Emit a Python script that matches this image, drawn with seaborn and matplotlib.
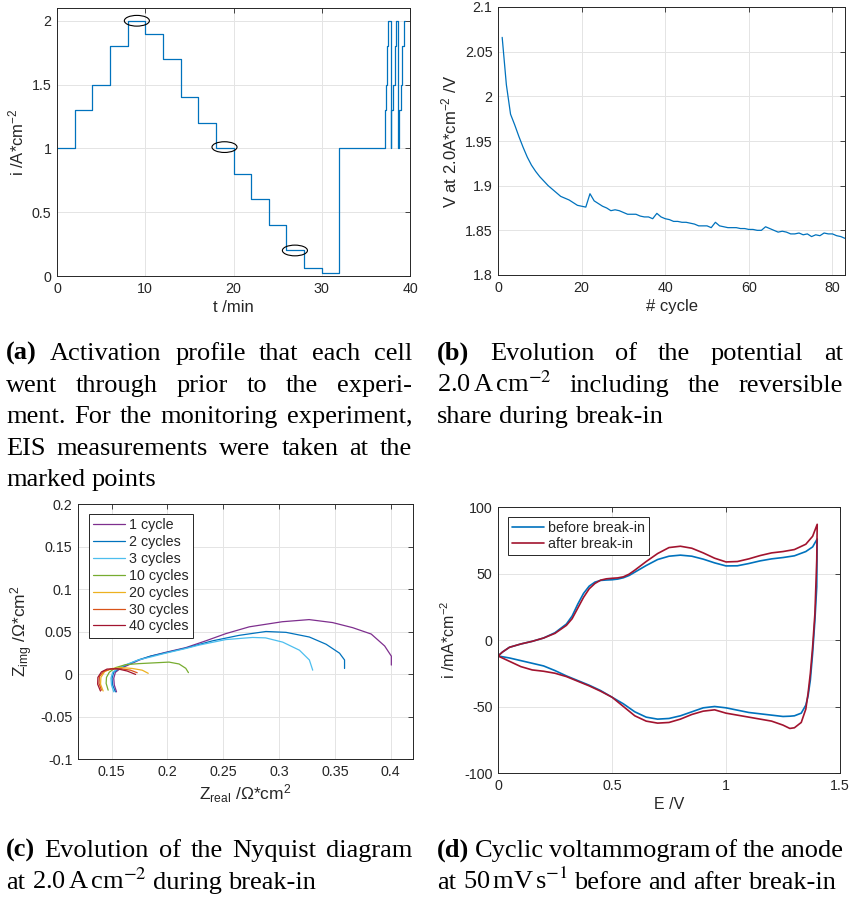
import numpy as np
import pandas as pd
import matplotlib
matplotlib.use("Agg")
import matplotlib.pyplot as plt
from matplotlib.patches import Ellipse
from matplotlib.ticker import FuncFormatter
import seaborn as sns

# ---------------- data ----------------
# (a) activation profile: step start times [min] and current density [A/cm2]
step_t = [0, 2, 4, 6, 8, 10, 12, 14, 16, 18, 20, 22, 24, 26, 28, 30, 32,
          37.16, 37.30, 37.42, 37.55, 37.80,
          37.90, 38.05, 38.25, 38.45, 38.64,
          38.75, 38.95, 39.10, 39.30, 39.43]
step_i = [1.0, 1.3, 1.5, 1.8, 2.0, 1.9, 1.7, 1.4, 1.2, 1.0, 0.8, 0.6, 0.4, 0.2, 0.065, 0.025, 1.0,
          1.3, 1.5, 1.8, 2.0, 1.0,
          1.3, 1.5, 1.8, 2.0, 1.0,
          1.3, 1.5, 1.8, 2.0, 2.0]
eis_t = [9.05, 18.98, 26.96]
eis_i = [2.0, 1.01, 0.2]

# (b) potential at 2.0 A/cm2 per cycle
cycle_no = list(range(1, 84))
v_cycle = [2.066, 2.013, 1.980, 1.968, 1.955, 1.943, 1.932, 1.923, 1.916, 1.910,
           1.905, 1.900, 1.896, 1.892, 1.888, 1.886, 1.884, 1.881, 1.878, 1.877,
           1.876, 1.891, 1.883, 1.880, 1.877, 1.875, 1.872, 1.873, 1.872, 1.870,
           1.868, 1.868, 1.868, 1.866, 1.865, 1.865, 1.863, 1.869, 1.865, 1.863,
           1.862, 1.860, 1.860, 1.859, 1.859, 1.858, 1.857, 1.855, 1.855, 1.855,
           1.853, 1.859, 1.855, 1.854, 1.853, 1.853, 1.853, 1.852, 1.852, 1.851,
           1.851, 1.850, 1.850, 1.854, 1.852, 1.850, 1.848, 1.849, 1.848, 1.846,
           1.846, 1.847, 1.845, 1.846, 1.843, 1.845, 1.844, 1.847, 1.846, 1.846,
           1.844, 1.843, 1.841]

# (c) Nyquist spectra
nyq_labels = ["1 cycle", "2 cycles", "3 cycles", "10 cycles", "20 cycles", "30 cycles", "40 cycles"]
nyq_colors = ["#7E2F8E", "#0072BD", "#4DBEEE", "#77AC30", "#EDB120", "#D95319", "#A2142F"]
zr_1 = [0.1545, 0.1525, 0.1520, 0.1535, 0.1580, 0.1650, 0.1750, 0.1850, 0.1985, 0.2165, 0.2344,
        0.2524, 0.2734, 0.3030, 0.3270, 0.3480, 0.3660, 0.3826, 0.3946, 0.4006, 0.4006]
zi_1 = [-0.021, -0.013, -0.005, 0.002, 0.0065, 0.0105, 0.0165, 0.0210, 0.0255, 0.0310, 0.0390,
        0.0475, 0.0555, 0.0615, 0.0640, 0.0605, 0.0545, 0.0470, 0.0330, 0.0210, 0.0105]
zr_2 = [0.1535, 0.1510, 0.1505, 0.1520, 0.1565, 0.1630, 0.1750, 0.1850, 0.1985, 0.2165, 0.2404,
        0.2644, 0.2883, 0.3063, 0.3272, 0.3422, 0.3542, 0.3587, 0.3587]
zi_2 = [-0.021, -0.013, -0.005, 0.002, 0.0065, 0.0105, 0.0170, 0.0210, 0.0250, 0.0305, 0.0390,
        0.0455, 0.0500, 0.0490, 0.0435, 0.0350, 0.0245, 0.0165, 0.0065]
zr_3 = [0.1520, 0.1500, 0.1495, 0.1510, 0.1555, 0.1620, 0.1740, 0.1850, 0.1985, 0.2165, 0.2284,
        0.2524, 0.2763, 0.2880, 0.3033, 0.3183, 0.3272, 0.3302]
zi_3 = [-0.021, -0.013, -0.005, 0.002, 0.0065, 0.0105, 0.0165, 0.0200, 0.0245, 0.0300, 0.0340,
        0.0405, 0.0430, 0.0425, 0.0375, 0.0280, 0.0165, 0.0045]
zr_10 = [0.1470, 0.1452, 0.1455, 0.1480, 0.1536, 0.1626, 0.1745, 0.1895, 0.2015, 0.2105, 0.2165, 0.2189]
zi_10 = [-0.019, -0.011, -0.004, 0.002, 0.0075, 0.0110, 0.0122, 0.0132, 0.0140, 0.0118, 0.0067, 0.0016]
zr_20 = [0.1425, 0.1402, 0.1405, 0.1440, 0.1506, 0.1596, 0.1686, 0.1775, 0.1829]
zi_20 = [-0.020, -0.012, -0.004, 0.003, 0.0065, 0.0075, 0.0065, 0.0045, 0.0008]
zr_30 = [0.1410, 0.1388, 0.1392, 0.1430, 0.1491, 0.1580, 0.1670, 0.1730]
zi_30 = [-0.019, -0.011, -0.003, 0.003, 0.0058, 0.0062, 0.0045, 0.0015]
zr_40 = [0.1401, 0.1376, 0.1378, 0.1410, 0.1460, 0.1550, 0.1640, 0.1716]
zi_40 = [-0.020, -0.012, -0.004, 0.0025, 0.0058, 0.0062, 0.0035, -0.0005]

# (d) cyclic voltammograms
E_anodic = [0.0, 0.02, 0.05, 0.1, 0.15, 0.2, 0.25, 0.3, 0.325, 0.35, 0.375, 0.4, 0.425, 0.45,
            0.475, 0.5, 0.525, 0.55, 0.575, 0.6, 0.65, 0.7, 0.75, 0.8, 0.85, 0.9, 0.95, 1.0,
            1.05, 1.1, 1.15, 1.2, 1.25, 1.3, 1.35, 1.38, 1.4]
i_before_anodic = [-12, -9, -5.5, -3, -1, 1.5, 5.5, 12, 18, 27, 35, 40.5, 43.5, 44.8,
                   45.1, 45.3, 45.8, 46.8, 48.5, 51, 56, 60.5, 63, 63.8, 63, 60.8, 58, 55.7,
                   55.8, 57.5, 59.5, 61, 62, 63.3, 66.5, 70, 76]
i_after_anodic = [-12, -9, -5.5, -3, -1, 1.5, 5, 11, 16, 24, 32, 38.5, 42.5, 45,
                  46, 46.4, 46.7, 47.5, 49.5, 52.5, 59, 65, 69.5, 70.5, 69, 65.5, 61.5, 58.7,
                  59, 61, 63.5, 65.5, 66.5, 68, 72, 78, 87]
E_cathodic = [1.398, 1.39, 1.38, 1.37, 1.36, 1.35, 1.33, 1.3, 1.28, 1.25, 1.2, 1.1, 1.0, 0.95,
              0.9, 0.85, 0.8, 0.75, 0.7, 0.65, 0.6, 0.55, 0.5, 0.45, 0.4, 0.35, 0.3, 0.25,
              0.2, 0.15, 0.1, 0.05, 0.0]
i_before_cathodic = [40, 15, -10, -30, -42, -49, -55, -57, -57.3, -57.5, -56.5, -54.5, -51, -50,
                     -51, -54, -57, -59, -59.5, -58, -54, -48, -43, -38, -34, -30.5, -27, -23,
                     -19.5, -17.5, -15.5, -13.5, -12]
i_after_cathodic = [60, 20, -5, -25, -40, -52, -62, -66, -66.5, -64, -61, -58, -55, -52.5,
                    -53.5, -56, -59.5, -62, -62.5, -61, -57, -50, -43, -38.5, -34.5, -31, -27.5,
                    -25, -23.5, -22.5, -20, -16, -12]

# ---------------- style ----------------
sns.set_theme(style="whitegrid")
plt.rcParams["font.family"] = ["Liberation Sans", "DejaVu Sans"]
plt.rcParams["mathtext.fontset"] = "custom"
plt.rcParams["mathtext.rm"] = "Liberation Sans"
plt.rcParams["mathtext.it"] = "Liberation Sans:italic"
plt.rcParams["mathtext.bf"] = "Liberation Sans:bold"

INK = "#262626"
GRID = "#e4e4e4"
W_PX, H_PX = 851, 897

fig = plt.figure(figsize=(W_PX / 100, H_PX / 100), dpi=100)
fig.patch.set_facecolor("white")


def axes_px(left, top, right, bottom):
    return fig.add_axes([left / W_PX, 1 - bottom / H_PX, (right - left) / W_PX, (bottom - top) / H_PX])


def style(ax, xlim, ylim, xticks, yticks, xlabel, ylabel, lsize=11):
    ax.set_facecolor("white")
    ax.set_xlim(*xlim)
    ax.set_ylim(*ylim)
    ax.set_xticks(xticks)
    ax.set_yticks(yticks)
    fmt = FuncFormatter(lambda v, p: f"{v:g}")
    ax.xaxis.set_major_formatter(fmt)
    ax.yaxis.set_major_formatter(fmt)
    ax.tick_params(direction="in", top=True, right=True, length=3.5, width=0.6,
                   color=INK, labelcolor=INK, labelsize=10.3, pad=4)
    ax.grid(True, color=GRID, lw=0.7)
    ax.set_axisbelow(True)
    for s in ax.spines.values():
        s.set_visible(True)
        s.set_color(INK)
        s.set_linewidth(0.7)
    ax.set_xlabel(xlabel, fontsize=lsize, color=INK, labelpad=3)
    ax.set_ylabel(ylabel, fontsize=lsize, color=INK, labelpad=4)


LW = 0.9

# (a)
ax_a = axes_px(57, 8, 410, 276)
sns.lineplot(x=step_t, y=step_i, ax=ax_a, color="#0072BD", lw=LW, drawstyle="steps-post",
             sort=False, estimator=None)
for t, i in zip(eis_t, eis_i):
    ax_a.add_patch(Ellipse((t, i), width=2.84, height=0.084, fill=False, ec="black", lw=0.8, zorder=4))
style(ax_a, (0, 40), (0, 2.1), [0, 10, 20, 30, 40], [0, 0.5, 1, 1.5, 2],
      "t /min", "i /A*cm$^{-2}$", lsize=12)

# (b)
ax_b = axes_px(498, 7, 845, 275)
sns.lineplot(x=cycle_no, y=v_cycle, ax=ax_b, color="#0072BD", lw=LW, sort=False, estimator=None)
style(ax_b, (0, 83), (1.8, 2.1), [0, 20, 40, 60, 80], [1.8, 1.85, 1.9, 1.95, 2.0, 2.05, 2.1],
      "# cycle", "V at 2.0A*cm$^{-2}$ /V", lsize=12)

# (c)
ax_c = axes_px(78, 504, 413, 759)
nyq = [(zr_1, zi_1), (zr_2, zi_2), (zr_3, zi_3), (zr_10, zi_10),
       (zr_20, zi_20), (zr_30, zi_30), (zr_40, zi_40)]
for (zr, zi), lab, col in zip(nyq, nyq_labels, nyq_colors):
    sns.lineplot(x=zr, y=zi, ax=ax_c, color=col, lw=LW, sort=False, estimator=None, label=lab)
style(ax_c, (0.12, 0.42), (-0.1, 0.2), [0.15, 0.2, 0.25, 0.3, 0.35, 0.4],
      [-0.1, -0.05, 0, 0.05, 0.1, 0.15, 0.2],
      "Z$_{\\mathrm{real}}$ /Ω*cm$^{2}$", "Z$_{\\mathrm{img}}$ /Ω*cm$^{2}$", lsize=12.5)
leg = ax_c.legend(loc="upper left", bbox_to_anchor=(11 / 335, 1 - 10 / 255), borderaxespad=0,
                  fontsize=10.3, frameon=True, fancybox=False, framealpha=1, edgecolor=INK,
                  handlelength=2.2, handletextpad=0.3, labelspacing=0.2, borderpad=0.3)
leg.get_frame().set_linewidth(0.7)

# (d)
ax_d = axes_px(498, 507, 840, 773)
E_loop = E_anodic + E_cathodic
sns.lineplot(x=E_loop, y=i_before_anodic + i_before_cathodic, ax=ax_d, color="#0072BD", lw=1.2,
             sort=False, estimator=None, label="before break-in")
sns.lineplot(x=E_loop, y=i_after_anodic + i_after_cathodic, ax=ax_d, color="#A2142F", lw=1.2,
             sort=False, estimator=None, label="after break-in")
style(ax_d, (0, 1.5), (-100, 100), [0, 0.5, 1, 1.5], [-100, -50, 0, 50, 100],
      "E /V", "i /mA*cm$^{-2}$", lsize=11.5)
leg = ax_d.legend(loc="upper left", bbox_to_anchor=(10 / 342, 1 - 10 / 266), borderaxespad=0,
                  fontsize=10.3, frameon=True, fancybox=False, framealpha=1, edgecolor=INK,
                  handlelength=2.2, handletextpad=0.3, labelspacing=0.12, borderpad=0.3)
leg.get_frame().set_linewidth(0.7)

# ---------------- captions (justified) ----------------
renderer = fig.canvas.get_renderer()
CAP_SIZE = 19


def caption_line(tokens, x0, x1, y_base, justify):
    texts = []
    for tok in tokens:
        bold = tok in ("(a)", "(b)", "(c)", "(d)")
        t = fig.text(0, 0, tok, fontsize=CAP_SIZE, family=["Liberation Serif", "DejaVu Serif"],
                     weight="bold" if bold else "normal", math_fontfamily="stix",
                     va="baseline", ha="left", color="black")
        texts.append(t)
    widths = [t.get_window_extent(renderer).width for t in texts]
    if justify and len(texts) > 1:
        gap = max((x1 - x0 - sum(widths)) / (len(texts) - 1), 2.5)
    else:
        gap = CAP_SIZE * 100 / 72 * 0.25
    x = x0
    for t, w in zip(texts, widths):
        t.set_position((x / W_PX, 1 - y_base / H_PX))
        x += w + gap


cap_a = [("(a) Activation profile that each cell", True),
         ("went through prior to the experi-", True),
         ("ment. For the monitoring experiment,", True),
         ("EIS measurements were taken at the", True),
         ("marked points", False)]
cap_b = [("(b) Evolution of the potential at", True),
         ("2.0$\\,$A$\\,$cm$^{-2}$ including the reversible", True),
         ("share during break-in", False)]
cap_c = [("(c) Evolution of the Nyquist diagram", True),
         ("at 2.0$\\,$A$\\,$cm$^{-2}$ during break-in", False)]
cap_d = [("(d) Cyclic voltammogram of the anode", True),
         ("at 50$\\,$mV$\\,$s$^{-1}$ before and after break-in", False)]

top_bases = [360, 391.5, 423, 454.5, 486]
bot_bases = [857, 888.5]
for (line, just), yb in zip(cap_a, top_bases):
    caption_line(line.split(" "), 6, 412, yb, just)
for (line, just), yb in zip(cap_b, top_bases):
    caption_line(line.split(" "), 437, 843, yb, just)
for (line, just), yb in zip(cap_c, bot_bases):
    caption_line(line.split(" "), 6, 412, yb, just)
for (line, just), yb in zip(cap_d, bot_bases):
    caption_line(line.split(" "), 437, 843, yb, just)

fig.savefig("out.png", dpi=100, facecolor="white")
